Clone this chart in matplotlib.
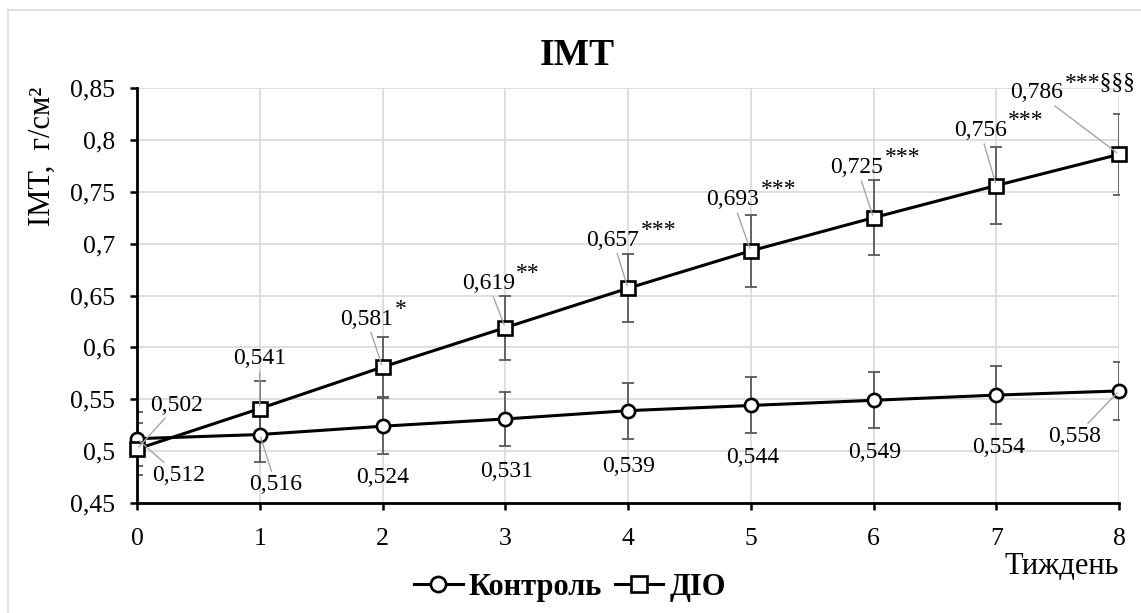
import matplotlib
matplotlib.use("Agg")
import matplotlib.pyplot as plt
from matplotlib.ticker import FuncFormatter
from matplotlib.lines import Line2D

plt.rcParams['font.family'] = ['Liberation Serif', 'DejaVu Serif']

weeks = [0, 1, 2, 3, 4, 5, 6, 7, 8]
control = [0.512, 0.516, 0.524, 0.531, 0.539, 0.544, 0.549, 0.554, 0.558]
control_err = [0.026, 0.026, 0.027, 0.026, 0.027, 0.027, 0.027, 0.028, 0.028]
dio = [0.502, 0.541, 0.581, 0.619, 0.657, 0.693, 0.725, 0.756, 0.786]
dio_err = [0.025, 0.027, 0.029, 0.031, 0.033, 0.035, 0.036, 0.037, 0.039]
dio_marks = ['', '', '*', '**', '***', '***', '***', '***', '***§§§']

# label placement: pixel offsets from the point (dx, dy with y down), leader line on/off
control_pos = [(42, 37), (16, 50), (0, 51), (1, 53), (1, 56), (2, 52), (1.5, 52), (2, 52), (-44, 46)]
control_leader = [True, True, False, False, False, False, False, False, True]
dio_pos = [(40, -44), (0, -50), (-16, -48), (-17, -44), (-15, -48), (-18, -51), (-16.5, -50), (-16, -55), (-82, -62)]
dio_leader = [True, True, True, True, True, True, True, True, True]

W, H = 1141, 613
fig = plt.figure(figsize=(W / 100, H / 100), dpi=100)
ax = fig.add_axes([137 / W, 1 - 503 / H, 982 / W, 415 / H])


def fmt(v):
    return f"{v:.3f}".replace('.', ',')


ax.errorbar(weeks, control, yerr=control_err, fmt='none', ecolor='#595959',
            elinewidth=1.3, capsize=4, capthick=1.3, zorder=2)
ax.errorbar(weeks, dio, yerr=dio_err, fmt='none', ecolor='#595959',
            elinewidth=1.3, capsize=4, capthick=1.3, zorder=2)
ax.plot(weeks, control, color='black', lw=2.2, marker='o', ms=9.5, mfc='white',
        mec='black', mew=1.9, zorder=4, clip_on=False, label='Контроль')
ax.plot(weeks, dio, color='black', lw=2.2, marker='s', ms=10, mfc='white',
        mec='black', mew=1.9, zorder=4, clip_on=False, label='ДІО')

leader = dict(arrowstyle='-', color='#a6a6a6', lw=1, shrinkA=0, shrinkB=2)

for x, y, (dx, dy), ld in zip(weeks, control, control_pos, control_leader):
    ax.annotate(fmt(y), xy=(x, y), xytext=(dx, -dy), textcoords='offset pixels',
                ha='center', va='center', fontsize=17, zorder=6,
                arrowprops=leader if ld else None, annotation_clip=False)

for x, y, (dx, dy), ld, mk in zip(weeks, dio, dio_pos, dio_leader, dio_marks):
    ax.annotate(fmt(y), xy=(x, y), xytext=(dx, -dy), textcoords='offset pixels',
                ha='center', va='center', fontsize=17, zorder=6,
                arrowprops=leader if ld else None, annotation_clip=False)
    if mk:
        # significance marks sit raised just right of the value
        ax.annotate(mk, xy=(x, y), xytext=(dx + 28, -dy + 10),
                    textcoords='offset pixels', ha='left', va='center',
                    fontsize=17, annotation_clip=False)

ax.set_xlim(0, 8)
ax.set_ylim(0.45, 0.85)
ax.set_xticks(weeks)
ax.set_yticks([0.45, 0.5, 0.55, 0.6, 0.65, 0.7, 0.75, 0.8, 0.85])
ax.yaxis.set_major_formatter(FuncFormatter(
    lambda v, p: f"{v:.2f}".rstrip('0').replace('.', ',')))
ax.grid(True, color='#d9d9d9', lw=1.2, zorder=0)
ax.set_axisbelow(True)
for s in ['top', 'right']:
    ax.spines[s].set_visible(False)
for s in ['left', 'bottom']:
    ax.spines[s].set_linewidth(2)
ax.tick_params(axis='both', direction='out', length=5, width=1.8, labelsize=18.5)
ax.tick_params(axis='y', pad=11)
ax.tick_params(axis='x', pad=13)

fig.text(577 / W, 1 - 55.5 / H, 'IMT', ha='center', va='center',
         fontsize=27, fontweight='bold')
fig.text(42 / W, 1 - 156 / H, 'IMT,  г/см²', rotation=90, ha='center',
         va='center', fontsize=22)
fig.text(1119 / W, 1 - 566 / H, 'Тиждень', ha='right', va='center', fontsize=22)

fig.legend(*ax.get_legend_handles_labels(), loc='center',
           bbox_to_anchor=(570 / W, 1 - 587 / H), ncol=2, frameon=False,
           prop=dict(weight='bold', size=22), handlelength=1.6, markerscale=1.15,
           handletextpad=0.2, columnspacing=0.4, borderpad=0)

# light frame of the chart area
fig.add_artist(Line2D([8 / W, 8 / W], [0, 1 - 10 / H], color='#d9d9d9', lw=1.2))
fig.add_artist(Line2D([8 / W, 1], [1 - 10 / H, 1 - 10 / H], color='#d9d9d9', lw=1.2))

fig.savefig('out.png', dpi=100)
